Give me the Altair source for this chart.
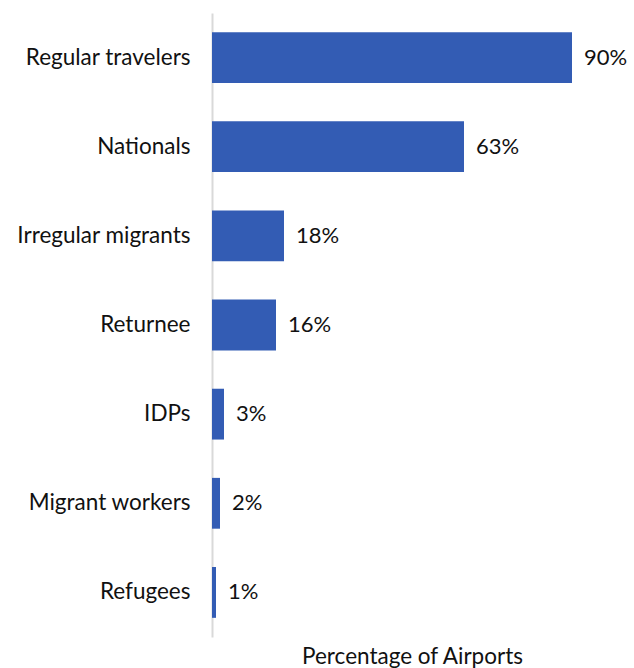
import altair as alt
import pandas as pd

categories = ["Regular travelers", "Nationals", "Irregular migrants", "Returnee",
              "IDPs", "Migrant workers", "Refugees"]
values = [90, 63, 18, 16, 3, 2, 1]
labels = ["90%", "63%", "18%", "16%", "3%", "2%", "1%"]

df = pd.DataFrame({"category": categories, "value": values, "label": labels})

FONT = "Lato"
FS = 22.5

y = alt.Y("category:N", sort=categories, title=None,
          scale=alt.Scale(paddingInner=0.43, paddingOuter=0.215),
          axis=alt.Axis(labelFont=FONT, labelFontSize=FS, labelColor="#111111",
                        labelPadding=22, ticks=False, domainColor="#D9D9D9",
                        domainWidth=2, grid=False))
x = alt.X("value:Q", scale=alt.Scale(domain=[0, 100]),
          axis=alt.Axis(title="Percentage of Airports", labels=False, ticks=False,
                        domain=False, grid=False, titleFont=FONT, titleFontSize=FS,
                        titleColor="#111111", titleFontWeight="normal", titlePadding=8))

bars = alt.Chart(df).mark_bar(color="#335CB4").encode(x=x, y=y)
text = alt.Chart(df).mark_text(align="left", baseline="middle", dx=12, font=FONT,
                               fontSize=22, color="#111111").encode(
    x="value:Q", y=alt.Y("category:N", sort=categories), text="label:N")

chart = (bars + text).properties(
    width=400, height=624,
    autosize=alt.AutoSizeParams(type="none"),
    padding={"left": 212, "top": 13, "right": 22, "bottom": 31},
    background="white",
).configure_view(strokeWidth=0)

chart.save("out.html", embed_options={"renderer": "svg", "actions": False})
